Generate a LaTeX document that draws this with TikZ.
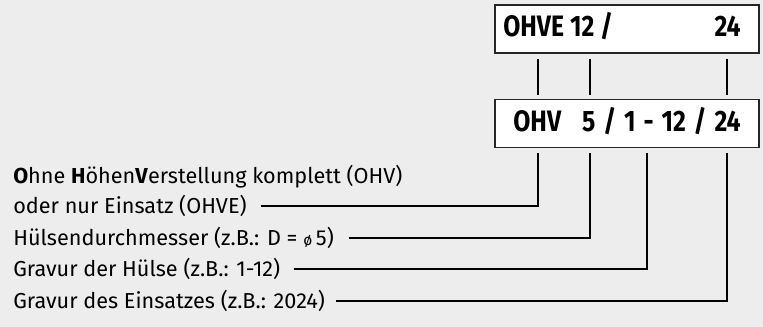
\documentclass[tikz,border=0pt]{standalone}
\usepackage{fontspec}
\setmainfont{Fira Sans}
\newfontfamily\codefont[FakeStretch=0.84]{Fira Sans}
\usetikzlibrary{positioning}
\definecolor{bggray}{HTML}{EDEDED}

\begin{document}
\begin{tikzpicture}[
  x=0.025cm, y=-0.025cm,
  codebox/.style={rectangle, draw=black!85, fill=white, line width=0.9pt, minimum width=6.6cm, minimum height=1.2cm, inner sep=0pt},
  code/.style={font=\codefont\bfseries\fontsize{21}{25}\selectfont, inner sep=0pt},
  legend/.style={anchor=west, inner sep=0pt, font=\fontsize{15.4}{18}\selectfont},
  lead/.style={line width=1.4pt}
]
\fill[bggray] (0,0) rectangle (763,327);
\useasboundingbox (0,0) rectangle (763,327);

\node[codebox] (ohve) at (627,29) {};
\node[code, anchor=base west] (ohvetxt) at (503,37) {OHVE 12 /};
\node[code, anchor=base east] (ohvenum) at (741,37) {24};
\node[codebox] (ohv) at (627,123.5) {};
\node[code, anchor=base] (ohvtxt) at (627,132) {\spaceskip=5.6pt OHV\hspace{15pt}5 / 1 - 12 / 24};

\node[legend] (ohne) at (13,177) {\textbf{O}hne \textbf{H}öhen\textbf{V}erstellung komplett (OHV)};
\node[legend] (oder) at (13,206) {oder nur Einsatz (OHVE)};
\node[legend] (dm) at (13,238) {Hülsendurchmesser (z.B.: D = {\fontsize{11}{13}\selectfont ø}\,5)};
\node[legend] (gh) at (13,269) {Gravur der Hülse (z.B.: 1-12)};
\node[legend] (ge) at (13,301) {Gravur des Einsatzes (z.B.: 2024)};

\coordinate (d1) at (538,153);
\coordinate (d2) at (590,153);
\coordinate (d3) at (647,153);
\coordinate (d4) at (727,153);

% Ticks
\foreach \x in {538,590,727}
  \draw[lead, shorten <=0.13cm, shorten >=0.1cm] (ohve.south -| \x,0) -- (ohv.north -| \x,0);

% Leads
\draw[lead] ([xshift=0.35cm]oder.east) -| (d1);
\draw[lead] ([xshift=0.37cm]dm.east) -| (d2);
\draw[lead] ([xshift=0.33cm]gh.east) -| (d3);
\draw[lead] ([xshift=0.27cm]ge.east) -| (d4);

\end{tikzpicture}
\end{document}
